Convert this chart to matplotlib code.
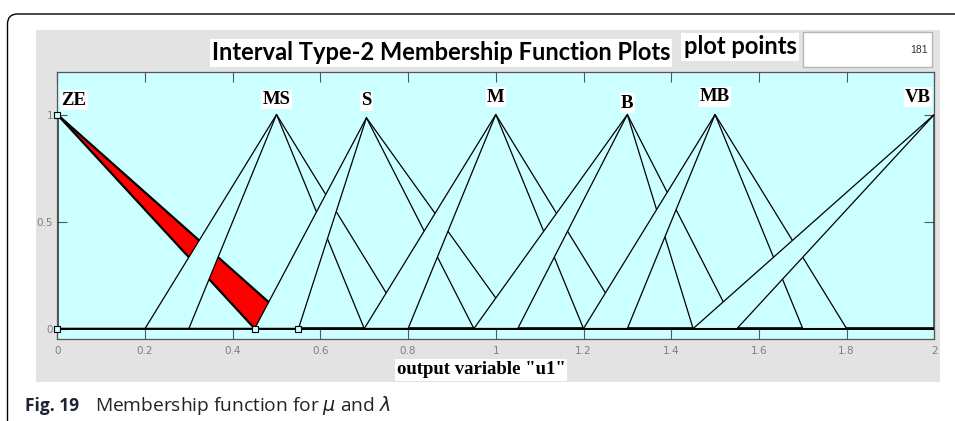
import numpy as np
import matplotlib.pyplot as plt
from matplotlib.patches import Rectangle, FancyBboxPatch
from matplotlib.transforms import IdentityTransform

# interval type-2 triangular sets: upper and lower MF (left foot, peak, right foot)
labels = ["ZE", "MS", "S", "M", "B", "MB", "VB"]
peaks = [0.0, 0.5, 0.705, 1.0, 1.3, 1.5, 2.0]
peak_heights = [1.0, 1.0, 0.985, 1.0, 1.0, 1.0, 1.0]
upper_left = [0.0, 0.2, 0.45, 0.7, 0.95, 1.2, 1.45]
upper_right = [0.55, 0.8, 1.05, 1.3, 1.55, 1.8, 2.0]
lower_left = [0.0, 0.3, 0.55, 0.8, 1.05, 1.3, 1.55]
lower_right = [0.45, 0.7, 0.95, 1.2, 1.45, 1.7, 2.0]
xticks = [0, 0.2, 0.4, 0.6, 0.8, 1, 1.2, 1.4, 1.6, 1.8, 2]
xticklabels = ["0", "0.2", "0.4", "0.6", "0.8", "1", "1.2", "1.4", "1.6", "1.8", "2"]
yticks = [0, 0.5, 1]
yticklabels = ["0", "0.5", "1"]
plot_points = 181

# layout only
label_dy = [0.067, 0.071, 0.079, 0.081, 0.053, 0.083, 0.081]
bg = "#ccffff"
W, H = 955, 421

fig = plt.figure(figsize=(W / 100, H / 100), dpi=100)

# outer rounded frame and grey panel
fig.patches.append(FancyBboxPatch((7.5, -20), 1100, H - 14 + 20,
                                  boxstyle="round,pad=0,rounding_size=10",
                                  transform=IdentityTransform(), fc="white",
                                  ec="black", lw=1.0, zorder=-2))
fig.patches.append(Rectangle((36 / W, 1 - 382 / H), 904 / W, 352 / H,
                             transform=fig.transFigure, fc="#e3e3e3",
                             ec="none", zorder=-1))
# "plot points" edit box
fig.patches.append(Rectangle((803 / W, 1 - 67 / H), 129 / W, 35 / H,
                             transform=fig.transFigure, fc="white",
                             ec="#b5b5b5", lw=1.0, zorder=1))

ax = fig.add_axes([57.3 / W, 1 - 339.3 / H, 877 / W, 267.6 / H])
ax.set_facecolor(bg)
ax.set_xlim(0, 2)
ax.set_ylim(-0.05, 1.2)

for i in range(len(labels)):
    ux = [0, upper_left[i], peaks[i], upper_right[i], 2]
    uy = [0, 0, peak_heights[i], 0, 0]
    lx = [0, lower_left[i], peaks[i], lower_right[i], 2]
    ly = [0, 0, peak_heights[i], 0, 0]
    selected = i == 0
    ax.fill(ux + lx[::-1], uy + ly[::-1], color="red" if selected else bg,
            lw=0, zorder=2 + i)
    lw = 1.6 if selected else 0.9
    ax.plot(ux, uy, color="black", lw=lw, zorder=2 + i)
    ax.plot(lx, ly, color="black", lw=lw, zorder=2 + i)
    lab_x = min(max(peaks[i], 0.038), 1.963)
    ax.text(lab_x, peak_heights[i] + label_dy[i], labels[i], ha="center",
            va="center", family="Liberation Serif", weight="bold", size=13.5,
            zorder=20, bbox=dict(fc="white", ec="none", pad=1.0))

# vertex handles of the selected set
ax.plot([0, 0, lower_right[0], upper_right[0]], [0, 1, 0, 0], ls="none",
        marker="s", ms=4, mfc=bg, mec="black", mew=0.8, zorder=15,
        clip_on=False)

ax.set_xticks(xticks)
ax.set_xticklabels(xticklabels)
ax.set_yticks(yticks)
ax.set_yticklabels(yticklabels)
ax.tick_params(direction="in", length=7, width=0.8, color="#555555",
               labelcolor="#808080", labelsize=7.5, top=True, right=True,
               pad=5)
ax.tick_params(axis="y", pad=3)
for s in ax.spines.values():
    s.set_color("#555555")
    s.set_linewidth(0.9)

# titles and labels
fig.text(441 / W, 1 - 53 / H, "Interval Type-2 Membership Function Plots",
         ha="center", va="center", family="Lato", weight="bold", size=17,
         bbox=dict(fc="white", ec="none", pad=1.5), zorder=5)
fig.text(740 / W, 1 - 47 / H, "plot points", ha="center", va="center",
         family="Lato", weight="bold", size=17,
         bbox=dict(fc="white", ec="none", pad=1.5), zorder=5)
fig.text(928 / W, 1 - 50 / H, str(plot_points), ha="right", va="center",
         family="Liberation Sans", size=7.5, color="#333333", zorder=5)
fig.text(481 / W, 1 - 370 / H, 'output variable "u1"', ha="center",
         va="center", family="Liberation Serif", weight="bold", size=13.5,
         bbox=dict(fc="white", ec="none", pad=1.5), zorder=5)

# caption
fig.text(25 / W, 1 - 411 / H, "Fig. 19", ha="left", va="baseline",
         family="Open Sans", weight="bold", size=12.5, color="#1c2433")
fig.text(95 / W, 1 - 411 / H, r"Membership function for $\mu$ and $\lambda$",
         ha="left", va="baseline", family="Open Sans", size=13.8,
         color="#222222")

fig.savefig("out.png", dpi=100, facecolor="white")
